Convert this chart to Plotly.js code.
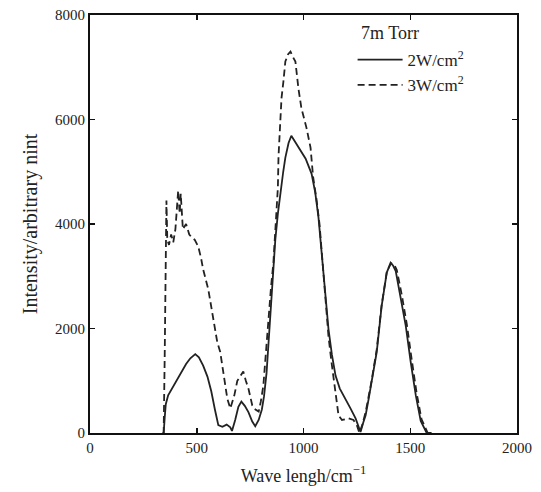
<!DOCTYPE html>
<html>
<head>
<meta charset="utf-8">
<script src="https://cdn.plot.ly/plotly-3.0.1.min.js"></script>
<style>html,body{margin:0;padding:0;background:#fff;}#chart{width:541px;height:492px;}</style>
</head>
<body>
<div id="chart"></div>
<script>
// 2 W/cm^2 (solid)
var x2W = [340,345,350,355,366,380,390,410,427,450,470,493,510,530,550,568,585,601,620,640,657,665,680,695,709,725,742,760,774,790,805,815,827,836,850,868,880,892,905,915,930,943,960,975,990,1010,1038,1055,1070,1082,1094,1105,1117,1133,1150,1170,1197,1220,1244,1267,1280,1291,1305,1319,1343,1366,1390,1408,1420,1432,1455,1479,1502,1526,1549,1565,1577,1600];
var y2W = [0,0,300,550,720,820,910,1050,1175,1320,1430,1510,1450,1290,1080,800,450,150,120,160,110,40,250,500,600,520,400,220,130,250,450,700,1150,1700,2600,3700,4200,4640,5000,5270,5550,5690,5580,5480,5400,5250,4960,4600,4130,3550,2940,2450,1990,1500,1100,850,660,470,280,20,200,340,650,985,1550,2430,3070,3260,3200,3100,2620,2050,1360,720,230,80,0,0];
// 3 W/cm^2 (dashed)
var x3W = [340,345,350,353,355,358,362,370,380,390,400,413,420,425,435,450,465,475,490,507,520,530,554,568,582,596,610,624,635,643,657,667,676,690,705,718,730,742,760,775,790,800,812,825,836,848,859,868,875,880,883,890,897,906,915,928,939,950,962,976,990,1014,1033,1045,1060,1075,1090,1105,1117,1131,1150,1164,1180,1211,1234,1250,1262,1275,1291,1305,1319,1343,1366,1390,1410,1425,1437,1460,1484,1507,1530,1553,1570,1582,1600];
var y3W = [0,0,1500,3000,3800,4450,3700,3600,3800,3650,3900,4640,4200,4580,3900,4000,3800,3750,3700,3570,3350,3130,2750,2430,2120,1740,1550,1175,850,660,470,600,720,1000,1100,1175,1000,850,530,450,410,600,910,1600,2310,2800,3260,3890,4400,4700,5300,5910,6410,6730,7110,7250,7300,7200,7110,6600,6220,5840,5460,4900,4500,4000,3200,2500,1850,1360,720,340,250,280,250,150,0,150,400,700,1000,1600,2450,3080,3250,3220,3120,2650,2080,1400,760,260,100,0,0];

var serif = "Liberation Serif, DejaVu Serif, serif";

var traces = [
  {x: x2W, y: y2W, mode: 'lines', name: '2W/cm<sup>2</sup>',
   line: {color: '#222', width: 1.8, dash: 'solid'}},
  {x: x3W, y: y3W, mode: 'lines', name: '3W/cm<sup>2</sup>',
   line: {color: '#222', width: 1.8, dash: '7px,4px'}}
];

var axisCommon = {
  showgrid: false, zeroline: false, showline: true, linecolor: '#111', linewidth: 2,
  mirror: 'ticks', ticks: 'inside', ticklen: 5, tickwidth: 1.5, tickcolor: '#111',
  tickfont: {family: serif, size: 15, color: '#222'}
};

var layout = {
  width: 541, height: 492,
  margin: {l: 90, r: 24, t: 15, b: 59},
  paper_bgcolor: '#fff', plot_bgcolor: '#fff',
  showlegend: true,
  legend: {x: 0.615, y: 0.935, xanchor: 'left', yanchor: 'top',
           bgcolor: 'rgba(0,0,0,0)', font: {family: serif, size: 17, color: '#222'},
           itemwidth: 45, tracegroupgap: 0},
  xaxis: Object.assign({}, axisCommon, {range: [0, 2000], tickvals: [0, 500, 1000, 1500, 2000],
    title: {text: 'Wave lengh/cm<sup>−1</sup>', font: {family: serif, size: 18, color: '#222'}, standoff: 14}}),
  yaxis: Object.assign({}, axisCommon, {range: [0, 8000], tickvals: [0, 2000, 4000, 6000, 8000],
    title: {text: 'Intensity/arbitrary nint', font: {family: serif, size: 20, color: '#222'}, standoff: 12}}),
  annotations: [
    {xref: 'paper', yref: 'paper', x: 0.63, y: 0.985, xanchor: 'left', yanchor: 'top',
     text: '7m Torr', showarrow: false, font: {family: serif, size: 18, color: '#222'}}
  ]
};

Plotly.newPlot('chart', traces, layout, {displayModeBar: false, staticPlot: true});
</script>
</body>
</html>
